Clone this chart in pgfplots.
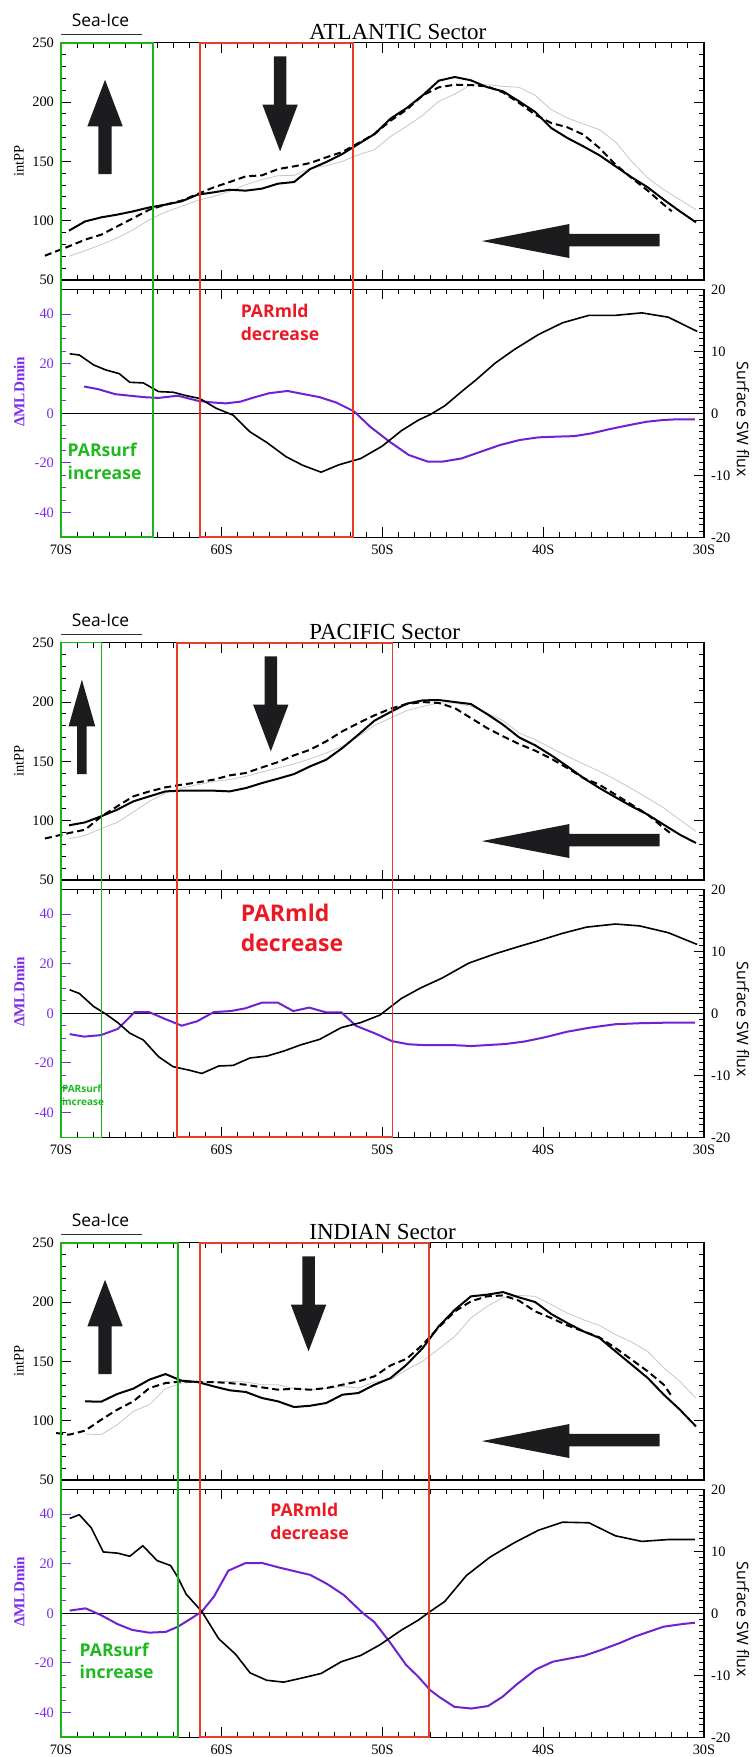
\documentclass[border=0pt]{standalone}
\usepackage{pgfplots}
\pgfplotsset{compat=1.18}
\usepackage{fontspec}
\setmainfont{Liberation Serif}
\newfontfamily\osans{Open Sans}
\definecolor{mpurple}{RGB}{110,35,210}
\definecolor{lpurple}{RGB}{125,45,230}
\definecolor{mgreen}{RGB}{25,180,25}
\definecolor{mred}{RGB}{230,60,40}
\definecolor{tred}{RGB}{235,25,35}
\definecolor{tgreen}{RGB}{30,185,30}
\definecolor{arrowc}{RGB}{28,28,30}
\pgfplotsset{
 mybase/.style={scale only axis, width=321.5pt, anchor=north west,
   xmin=-70, xmax=-30, xtick={-70,-60,-50,-40,-30}, minor x tick num=9,
   tick label style={font=\fontsize{7.2}{8.5}\selectfont},
   /pgf/number format/assume math mode=true,
   axis line style={line width=0.7pt},
   tick style={line width=0.5pt, black},
   major tick length=5pt, minor tick length=2.5pt, tick align=inside, no markers},
 mytop/.style={mybase, height=118.65pt, ymin=50, ymax=250, ytick={50,100,150,200,250},
   minor y tick num=4, xticklabels={}, clip=false, ylabel={intPP},
   every axis y label/.style={at={(axis description cs:-0.0653,0.5)},anchor=center,rotate=90,font=\fontsize{7.2}{8.5}\selectfont}},
 mybotL/.style={mybase, height=124pt, ymin=-50, ymax=50, ytick={-40,-20,0,20,40},
   minor y tick num=3, ytick pos=left, xticklabels={70S,60S,50S,40S,30S},
   xticklabel style={yshift=-0.3pt}, ytick style={lpurple}, yticklabel style={lpurple},
   ylabel={ΔMLDmin},
   every axis y label/.style={at={(axis description cs:-0.0653,0.587)},anchor=center,rotate=90,font=\bfseries\fontsize{7.6}{9}\selectfont,text=lpurple}},
 mybotR/.style={mybase, height=124pt, ymin=-20, ymax=20, ytick={-20,-10,0,10,20},
   minor y tick num=9, axis y line*=right, axis x line=none, ylabel={Surface SW flux},
   every axis y label/.style={at={(axis description cs:1.0607,0.476)},anchor=center,rotate=-90,font=\osans\fontsize{8}{9.5}\selectfont}},
 gline/.style={black!22, line width=0.4pt},
 sline/.style={black, line width=1pt},
 dline/.style={black, line width=1pt, dash pattern=on 3.5pt off 2pt},
 pline/.style={mpurple, line width=1pt},
 bline/.style={black, line width=0.8pt},
}
\newcommand\parfont[1]{\osans\bfseries\fontsize{#1}{#1}\selectfont}
\begin{document}
\begin{tikzpicture}
\path[use as bounding box] (0,0) rectangle (375.5pt,-878.5pt);
%================ ATLANTIC
\begin{axis}[mytop, at={(30.5pt,-21.35pt)}]
\addplot[gline] coordinates {(-69.5,70.0)(-68.5,74.7)(-67.5,79.8)(-66.5,85.4)(-65.5,92.4)(-64.5,100.8)(-63.5,107.3)(-62.5,112.1)(-61.5,117.1)(-60.5,120.5)(-59.5,124.7)(-58.5,130.3)(-57.5,134.6)(-56.5,137.9)(-55.5,138.2)(-54.5,144.4)(-53.5,146.3)(-52.5,150.0)(-51.5,155.6)(-50.5,159.8)(-49.5,171.0)(-48.5,179.5)(-47.5,188.8)(-46.5,200.6)(-45.5,206.7)(-44.5,214.6)(-43.5,214.6)(-42.5,213.2)(-41.5,212.4)(-40.5,205.6)(-39.5,193.5)(-38.5,186.5)(-37.5,181.5)(-36.5,176.7)(-35.5,166.3)(-34.5,150.0)(-33.5,136.0)(-32.5,126.1)(-31.5,117.7)(-30.5,109.3)};
\addplot[dline] coordinates {(-71.0,70.5)(-69.5,78.4)(-68.5,84.0)(-67.5,88.2)(-66.5,95.2)(-65.5,102.2)(-64.5,109.3)(-63.5,113.5)(-62.5,116.9)(-61.5,122.5)(-60.5,128.1)(-59.5,132.6)(-58.5,137.4)(-57.5,138.2)(-56.5,143.5)(-55.5,145.8)(-54.5,148.6)(-53.5,153.4)(-52.5,157.9)(-51.5,165.4)(-50.5,173.0)(-49.5,184.3)(-48.5,193.5)(-47.5,205.6)(-46.5,212.4)(-45.5,214.6)(-44.5,214.3)(-43.5,213.2)(-42.5,208.1)(-41.5,199.2)(-40.5,189.3)(-39.5,182.3)(-38.5,178.7)(-37.5,172.5)(-36.5,161.2)(-35.5,147.2)(-34.5,136.0)(-33.5,125.3)(-32.5,113.5)(-32.0,107.9)};
\addplot[sline] coordinates {(-69.5,91.6)(-68.5,99.4)(-67.5,102.8)(-66.5,105.1)(-65.5,107.9)(-64.5,111.2)(-63.5,113.5)(-62.5,116.3)(-61.5,121.9)(-60.5,123.9)(-59.5,126.1)(-58.5,125.3)(-57.5,127.0)(-56.5,131.2)(-55.5,132.6)(-54.5,143.5)(-53.5,149.4)(-52.5,156.2)(-51.5,164.6)(-50.5,173.0)(-49.5,186.0)(-48.5,194.9)(-47.5,205.6)(-46.5,218.0)(-45.5,221.1)(-44.5,218.3)(-43.5,212.6)(-42.5,209.0)(-41.5,200.6)(-40.5,191.6)(-39.5,178.1)(-38.5,169.7)(-37.5,162.6)(-36.5,155.1)(-35.5,145.8)(-34.5,136.5)(-33.5,128.1)(-32.5,117.7)(-31.5,107.9)(-30.5,98.6)};
\fill[arrowc] (axis cs:-67.675,139.3) -- (axis cs:-67.675,179.5) -- (axis cs:-68.36,179.5) -- (axis cs:-67.26,218.8) -- (axis cs:-66.16,179.5) -- (axis cs:-66.845,179.5) -- (axis cs:-66.845,139.3) -- cycle;
\fill[arrowc] (axis cs:-56.76,238.5) -- (axis cs:-56.76,197.8) -- (axis cs:-57.47,197.8) -- (axis cs:-56.37,158.4) -- (axis cs:-55.27,197.8) -- (axis cs:-55.98,197.8) -- (axis cs:-55.98,238.5) -- cycle;
\fill[arrowc] (axis cs:-43.82,82.8) -- (axis cs:-38.37,97.2) -- (axis cs:-38.37,88.8) -- (axis cs:-32.76,88.8) -- (axis cs:-32.76,78.4) -- (axis cs:-38.37,78.4) -- (axis cs:-38.37,68.5) -- cycle;
\coordinate (AgT) at (axis cs:-70,250);
\coordinate (ArT) at (axis cs:-61.35,250);
\end{axis}
\begin{axis}[mybotL, at={(30.5pt,-144.65pt)}]
\draw[black, line width=0.5pt] (axis cs:-70,0) -- (axis cs:-30,0);
\addplot[pline] coordinates {(-68.56,10.8)(-67.67,9.7)(-66.62,7.7)(-64.82,6.5)(-63.93,6.2)(-62.73,7.1)(-61.53,5.1)(-60.64,4.4)(-59.74,4.0)(-58.84,4.7)(-57.94,6.5)(-57.05,8.1)(-55.91,9.0)(-54.95,7.8)(-53.91,6.5)(-52.86,4.3)(-51.75,0.7)(-50.77,-5.4)(-49.57,-11.4)(-48.37,-16.8)(-47.18,-19.5)(-46.28,-19.5)(-45.08,-18.2)(-43.89,-15.5)(-42.69,-12.8)(-41.49,-10.8)(-40.30,-9.7)(-39.10,-9.4)(-38.05,-9.2)(-37.01,-8.1)(-35.81,-6.3)(-34.61,-4.7)(-33.57,-3.4)(-32.52,-2.7)(-31.62,-2.4)(-30.57,-2.4)};
\coordinate (AgB) at (axis cs:-64.29,-50);
\coordinate (ArB) at (axis cs:-51.85,-50);
\end{axis}
\begin{axis}[mybotR, at={(30.5pt,-144.65pt)}]
\addplot[bline] coordinates {(-69.46,9.6)(-68.86,9.4)(-67.97,7.8)(-67.22,7.0)(-66.38,6.4)(-65.72,5.0)(-64.88,4.9)(-63.93,3.5)(-63.03,3.4)(-62.13,2.8)(-61.38,2.4)(-60.34,0.8)(-59.29,-0.3)(-58.24,-3.0)(-57.20,-4.7)(-56.00,-7.0)(-54.95,-8.4)(-53.82,-9.5)(-52.71,-8.3)(-51.36,-7.3)(-50.02,-5.3)(-48.82,-2.8)(-47.77,-1.1)(-47.03,-0.2)(-46.13,1.2)(-45.08,3.5)(-44.18,5.4)(-42.99,8.1)(-41.79,10.3)(-40.30,12.7)(-38.80,14.6)(-37.16,15.8)(-35.51,15.8)(-33.87,16.2)(-32.22,15.5)(-30.42,13.2)};
\end{axis}
\draw[mgreen, line width=0.9pt] (AgT) rectangle (AgB);
\draw[mred, line width=0.85pt] (ArT) rectangle (ArB);
\node[anchor=base west, inner sep=0pt, font=\fontsize{11.5}{13}\selectfont] at (154.5pt,-19.65pt) {ATLANTIC Sector};
\node[anchor=base, inner sep=0pt, font=\osans\fontsize{8.7}{10}\selectfont] at (50.25pt,-13pt) {Sea-Ice};
\draw[black!80, line width=0.5pt] (30.5pt,-17.15pt) -- (71.15pt,-17.15pt);
\node[anchor=base west, inner sep=0pt, text=tred, font=\parfont{8.8}] at (120.2pt,-158.65pt) {PARmld};
\node[anchor=base west, inner sep=0pt, text=tred, font=\parfont{8.8}] at (120.2pt,-170.35pt) {decrease};
\node[anchor=base west, inner sep=0pt, text=tgreen, font=\parfont{8.8}] at (33.65pt,-228pt) {PARsurf};
\node[anchor=base west, inner sep=0pt, text=tgreen, font=\parfont{8.8}] at (33.65pt,-239.65pt) {increase};
%================ PACIFIC
\begin{axis}[mytop, at={(30.5pt,-321.35pt)}]
\addplot[gline] coordinates {(-69.5,84.8)(-68.5,87.6)(-67.5,93.3)(-66.5,98.6)(-65.5,107.3)(-64.5,116.3)(-63.5,123.3)(-62.5,127.5)(-61.5,130.3)(-60.5,133.1)(-59.5,134.6)(-58.5,137.4)(-57.5,141.0)(-56.5,144.4)(-55.5,147.8)(-54.5,152.2)(-53.5,157.0)(-52.5,162.6)(-51.5,171.1)(-50.5,180.3)(-49.5,186.5)(-48.5,192.7)(-47.5,196.3)(-46.5,199.2)(-45.5,199.2)(-44.5,196.3)(-43.5,190.7)(-42.5,184.3)(-41.5,173.9)(-40.5,168.3)(-39.5,161.2)(-38.5,154.2)(-37.5,147.8)(-36.5,141.6)(-35.5,134.6)(-34.5,127.0)(-33.5,119.1)(-32.5,110.7)(-31.5,100.8)(-30.5,91.0)};
\addplot[dline] coordinates {(-71.0,85.0)(-69.5,89.6)(-68.5,92.4)(-67.5,103.5)(-66.5,112.1)(-65.5,120.5)(-64.5,124.7)(-63.5,128.1)(-62.5,130.3)(-61.5,132.3)(-60.5,134.6)(-59.5,138.2)(-58.5,140.2)(-57.5,144.9)(-56.5,149.4)(-55.5,155.1)(-54.5,159.8)(-53.5,166.9)(-52.5,175.3)(-51.5,182.3)(-50.5,188.8)(-49.5,194.4)(-48.5,198.3)(-47.5,200.0)(-46.5,199.2)(-45.5,194.9)(-44.5,186.5)(-43.5,178.1)(-42.5,171.1)(-41.5,164.6)(-40.5,159.0)(-39.5,152.2)(-38.5,144.4)(-37.5,136.0)(-36.5,130.3)(-35.5,121.9)(-34.5,113.5)(-33.5,105.1)(-32.5,93.8)(-32.1,89.6)};
\addplot[sline] coordinates {(-69.5,96.1)(-68.5,98.6)(-67.5,103.7)(-66.5,109.3)(-65.5,116.3)(-64.5,120.5)(-63.5,124.7)(-62.5,125.3)(-61.5,125.3)(-60.5,125.3)(-59.5,124.7)(-58.5,127.5)(-57.5,131.7)(-56.5,135.4)(-55.5,139.3)(-54.5,145.8)(-53.5,151.4)(-52.5,161.2)(-51.5,172.5)(-50.5,184.3)(-49.5,191.6)(-48.5,198.6)(-47.5,201.4)(-46.5,201.7)(-45.5,200.0)(-44.5,198.3)(-43.5,189.9)(-42.5,180.9)(-41.5,170.2)(-40.5,163.5)(-39.5,155.1)(-38.5,145.8)(-37.5,136.0)(-36.5,127.5)(-35.5,119.7)(-34.5,112.1)(-33.5,105.1)(-32.5,96.6)(-31.5,88.2)(-30.5,81.2)};
\fill[arrowc] (axis cs:-69,139.3) -- (axis cs:-69,179.5) -- (axis cs:-69.53,179.5) -- (axis cs:-68.7,218.8) -- (axis cs:-67.87,179.5) -- (axis cs:-68.4,179.5) -- (axis cs:-68.4,139.3) -- cycle;
\fill[arrowc] (axis cs:-57.34,238.5) -- (axis cs:-57.34,197.8) -- (axis cs:-58.05,197.8) -- (axis cs:-56.95,158.4) -- (axis cs:-55.85,197.8) -- (axis cs:-56.56,197.8) -- (axis cs:-56.56,238.5) -- cycle;
\fill[arrowc] (axis cs:-43.82,82.8) -- (axis cs:-38.37,97.2) -- (axis cs:-38.37,88.8) -- (axis cs:-32.76,88.8) -- (axis cs:-32.76,78.4) -- (axis cs:-38.37,78.4) -- (axis cs:-38.37,68.5) -- cycle;
\coordinate (PgT) at (axis cs:-70,250);
\coordinate (PrT) at (axis cs:-62.78,250);
\end{axis}
\begin{axis}[mybotL, at={(30.5pt,-444.65pt)}]
\draw[black, line width=0.5pt] (axis cs:-70,0) -- (axis cs:-30,0);
\addplot[pline] coordinates {(-69.46,-8.4)(-68.56,-9.4)(-67.52,-8.8)(-66.47,-6.3)(-65.42,0.5)(-64.53,0.5)(-63.48,-2.4)(-62.49,-5.0)(-61.53,-3.2)(-60.49,0.5)(-59.44,0.9)(-58.54,2.0)(-57.50,4.3)(-56.51,4.3)(-55.55,0.9)(-54.56,2.3)(-53.52,0.4)(-52.56,0.4)(-51.66,-5.0)(-50.47,-8.1)(-49.42,-11.2)(-48.37,-12.5)(-47.48,-12.8)(-45.68,-12.8)(-44.48,-13.2)(-42.39,-12.4)(-41.19,-11.4)(-39.99,-9.8)(-38.50,-7.4)(-37.01,-5.7)(-35.51,-4.4)(-34.01,-4.0)(-32.52,-3.8)(-30.57,-3.8)};
\coordinate (PgB) at (axis cs:-67.47,-50);
\coordinate (PrB) at (axis cs:-49.38,-50);
\end{axis}
\begin{axis}[mybotR, at={(30.5pt,-444.65pt)}]
\addplot[bline] coordinates {(-69.46,3.8)(-68.86,3.2)(-67.97,1.1)(-67.22,-0.1)(-66.47,-1.5)(-65.72,-3.2)(-64.88,-4.3)(-63.93,-7.0)(-63.03,-8.6)(-61.98,-9.2)(-61.24,-9.7)(-60.19,-8.5)(-59.29,-8.4)(-58.24,-7.2)(-57.20,-6.9)(-56.15,-6.1)(-55.10,-5.1)(-53.91,-4.2)(-52.56,-2.3)(-51.36,-1.5)(-50.17,-0.3)(-48.82,2.4)(-47.62,4.1)(-46.28,5.7)(-44.63,8.1)(-42.99,9.6)(-41.49,10.8)(-40.30,11.7)(-38.80,12.9)(-37.31,13.9)(-35.51,14.4)(-34.01,14.1)(-32.22,13.0)(-30.42,11.1)};
\end{axis}
\draw[mgreen, line width=0.7pt] (PgT) rectangle (PgB);
\draw[mred, line width=0.85pt] (PrT) rectangle (PrB);
\node[anchor=base west, inner sep=0pt, font=\fontsize{11.5}{13}\selectfont] at (154.5pt,-319.65pt) {PACIFIC Sector};
\node[anchor=base, inner sep=0pt, font=\osans\fontsize{8.7}{10}\selectfont] at (50.25pt,-313pt) {Sea-Ice};
\draw[black!80, line width=0.5pt] (30.5pt,-317.15pt) -- (71.15pt,-317.15pt);
\node[anchor=base west, inner sep=0pt, text=tred, font=\parfont{11.5}] at (120.2pt,-460.85pt) {PARmld};
\node[anchor=base west, inner sep=0pt, text=tred, font=\parfont{11.5}] at (120.2pt,-475.85pt) {decrease};
\node[anchor=base west, inner sep=0pt, text=tgreen, font=\parfont{5}] at (30.8pt,-546.15pt) {PARsurf};
\node[anchor=base west, inner sep=0pt, text=tgreen, font=\parfont{5}] at (30.8pt,-552.85pt) {increase};
%================ INDIAN
\begin{axis}[mytop, at={(30.5pt,-621.35pt)}]
\addplot[gline] coordinates {(-68.5,88.8)(-67.5,88.2)(-66.5,96.6)(-65.5,107.9)(-64.5,113.5)(-63.5,127.0)(-62.5,131.7)(-61.5,132.6)(-60.5,132.6)(-59.5,133.1)(-58.5,132.6)(-57.5,130.3)(-56.5,130.3)(-55.5,127.0)(-54.5,126.1)(-53.5,127.0)(-52.5,128.9)(-51.5,127.5)(-50.5,132.6)(-49.5,134.6)(-48.5,143.0)(-47.5,150.0)(-46.5,160.5)(-45.5,171.1)(-44.5,186.5)(-43.5,196.3)(-42.5,203.9)(-41.5,205.6)(-40.5,204.8)(-39.5,197.8)(-38.5,190.7)(-37.5,185.1)(-36.5,180.3)(-35.5,172.5)(-34.5,166.3)(-33.5,158.4)(-32.5,144.4)(-31.5,133.1)(-30.5,119.0)};
\addplot[dline] coordinates {(-70.3,89.6)(-69.5,88.2)(-68.5,91.6)(-67.5,100.8)(-66.5,109.3)(-65.5,116.3)(-64.5,127.5)(-63.5,131.7)(-62.5,133.1)(-61.5,132.6)(-60.5,132.6)(-59.5,131.7)(-58.5,130.3)(-57.5,128.1)(-56.5,126.1)(-55.5,127.0)(-54.5,126.1)(-53.5,127.5)(-52.5,130.3)(-51.5,133.1)(-50.5,137.4)(-49.5,146.6)(-48.5,152.2)(-47.5,164.0)(-46.5,178.7)(-45.5,192.1)(-44.5,200.6)(-43.5,204.8)(-42.5,205.6)(-41.5,201.1)(-40.5,192.1)(-39.5,186.5)(-38.5,180.3)(-37.5,175.3)(-36.5,170.2)(-35.5,161.2)(-34.5,151.4)(-33.5,141.6)(-32.5,130.3)(-32.0,120.5)};
\addplot[sline] coordinates {(-68.5,116.3)(-67.5,116.0)(-66.5,122.5)(-65.5,127.0)(-64.5,134.6)(-63.5,139.3)(-62.5,133.7)(-61.5,132.6)(-60.5,128.9)(-59.5,125.6)(-58.5,124.2)(-57.5,119.1)(-56.5,116.3)(-55.5,111.5)(-54.5,112.6)(-53.5,114.9)(-52.5,121.9)(-51.5,123.3)(-50.5,130.3)(-49.5,135.9)(-48.5,147.2)(-47.5,161.2)(-46.5,179.5)(-45.5,193.5)(-44.5,204.8)(-43.5,206.2)(-42.5,208.4)(-41.5,203.9)(-40.5,200.0)(-39.5,189.9)(-38.5,182.3)(-37.5,175.3)(-36.5,169.7)(-35.5,158.4)(-34.5,147.2)(-33.5,136.0)(-32.5,121.9)(-31.5,109.3)(-30.5,95.2)};
\fill[arrowc] (axis cs:-67.675,139.3) -- (axis cs:-67.675,179.5) -- (axis cs:-68.36,179.5) -- (axis cs:-67.26,218.8) -- (axis cs:-66.16,179.5) -- (axis cs:-66.845,179.5) -- (axis cs:-66.845,139.3) -- cycle;
\fill[arrowc] (axis cs:-54.99,238.5) -- (axis cs:-54.99,197.8) -- (axis cs:-55.7,197.8) -- (axis cs:-54.6,158.4) -- (axis cs:-53.5,197.8) -- (axis cs:-54.21,197.8) -- (axis cs:-54.21,238.5) -- cycle;
\fill[arrowc] (axis cs:-43.82,82.8) -- (axis cs:-38.37,97.2) -- (axis cs:-38.37,88.8) -- (axis cs:-32.76,88.8) -- (axis cs:-32.76,78.4) -- (axis cs:-38.37,78.4) -- (axis cs:-38.37,68.5) -- cycle;
\coordinate (IgT) at (axis cs:-70,250);
\coordinate (IrT) at (axis cs:-61.35,250);
\end{axis}
\begin{axis}[mybotL, at={(30.5pt,-744.65pt)}]
\draw[black, line width=0.5pt] (axis cs:-70,0) -- (axis cs:-30,0);
\addplot[pline] coordinates {(-69.46,1.1)(-68.47,2.0)(-67.52,-0.7)(-66.47,-4.4)(-65.57,-6.7)(-64.53,-7.8)(-63.48,-7.5)(-62.73,-5.4)(-61.98,-2.4)(-61.24,0.7)(-60.49,6.7)(-59.59,17.2)(-58.54,20.2)(-57.50,20.3)(-56.45,18.5)(-55.55,17.1)(-54.50,15.5)(-53.46,11.9)(-52.41,7.4)(-51.21,0.0)(-50.53,-3.4)(-49.57,-11.4)(-48.52,-20.9)(-47.77,-25.6)(-47.03,-31.0)(-46.43,-33.9)(-45.53,-37.7)(-44.48,-38.4)(-43.44,-37.4)(-42.54,-33.7)(-41.64,-28.6)(-40.45,-22.6)(-39.40,-19.5)(-38.35,-18.2)(-37.45,-17.1)(-36.41,-14.8)(-35.21,-11.9)(-34.31,-9.4)(-33.42,-7.4)(-32.52,-5.4)(-31.32,-4.3)(-30.57,-3.8)};
\coordinate (IgB) at (axis cs:-62.72,-50);
\coordinate (IrB) at (axis cs:-47.1,-50);
\end{axis}
\begin{axis}[mybotR, at={(30.5pt,-744.65pt)}]
\addplot[bline] coordinates {(-69.46,15.3)(-68.86,15.9)(-68.12,13.8)(-67.37,9.9)(-66.47,9.7)(-65.72,9.2)(-64.91,10.9)(-64.02,8.5)(-63.18,7.7)(-62.73,5.8)(-62.22,3.1)(-61.24,0.3)(-60.19,-4.1)(-59.14,-6.6)(-58.24,-9.6)(-57.20,-10.8)(-56.15,-11.1)(-54.95,-10.4)(-53.82,-9.7)(-52.56,-7.8)(-51.36,-6.8)(-50.17,-5.1)(-48.82,-2.7)(-47.77,-1.1)(-47.03,0.3)(-46.13,1.9)(-44.78,6.1)(-43.29,9.1)(-41.79,11.4)(-40.30,13.4)(-38.80,14.7)(-37.16,14.6)(-35.51,12.5)(-33.87,11.6)(-32.22,11.9)(-30.57,11.9)};
\end{axis}
\draw[mgreen, line width=0.9pt] (IgT) rectangle (IgB);
\draw[mred, line width=0.85pt] (IrT) rectangle (IrB);
\node[anchor=base west, inner sep=0pt, font=\fontsize{11.5}{13}\selectfont] at (154.5pt,-619.65pt) {INDIAN Sector};
\node[anchor=base, inner sep=0pt, font=\osans\fontsize{8.7}{10}\selectfont] at (50.25pt,-613pt) {Sea-Ice};
\draw[black!80, line width=0.5pt] (30.5pt,-617.15pt) -- (71.15pt,-617.15pt);
\node[anchor=base west, inner sep=0pt, text=tred, font=\parfont{8.8}] at (135pt,-758pt) {PARmld};
\node[anchor=base west, inner sep=0pt, text=tred, font=\parfont{8.8}] at (135pt,-769.65pt) {decrease};
\node[anchor=base west, inner sep=0pt, text=tgreen, font=\parfont{8.8}] at (39.65pt,-828pt) {PARsurf};
\node[anchor=base west, inner sep=0pt, text=tgreen, font=\parfont{8.8}] at (39.65pt,-839.15pt) {increase};
\end{tikzpicture}
\end{document}
